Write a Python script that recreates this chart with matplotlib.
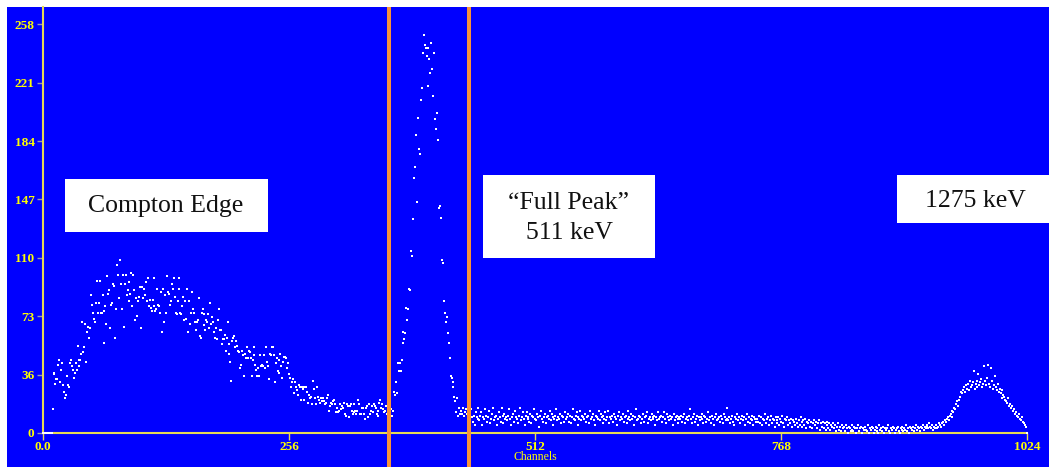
import matplotlib
matplotlib.use("Agg")
import matplotlib.pyplot as plt
from matplotlib.patches import Rectangle
import numpy as np

# ---- data: counts per channel ----
counts_low = [0, 0, 0, 0, 0, 0, 0, 0, 0, 0,
              15, 38, 37, 31, 34, 34, 43, 46, 32, 40, 44, 30, 26, 22, 24, 36,
              30, 29, 44, 46, 42, 40, 35, 38, 44, 40,
              55, 42, 46, 46, 50, 70, 51, 54, 69, 45, 64, 67, 60, 66, 87, 81,
              76, 72, 70, 82, 96, 76]

counts_compton = [
    82, 96, 76, 76, 87, 77, 57, 80, 69, 99, 88,
    90, 66, 81, 82, 94, 93, 60, 78, 106, 100, 85,
    109, 94, 78, 100, 67, 94, 100, 87, 90, 95, 83,
    88, 101, 80, 100, 90, 71, 85, 74, 83, 86, 92,
    66, 92, 85, 91, 87, 95, 83, 98, 80, 84, 79,
    77, 84, 98, 80, 77, 78, 91, 81, 80, 76, 89,
    64, 91, 70, 87, 76, 99, 89, 88, 81, 83, 94,
    91, 98, 86, 76, 75, 83, 91, 98, 76, 75, 80,
    86, 71, 83, 72, 91, 64, 83, 69, 76, 89, 78,
    76, 70, 65, 70, 71, 85, 61, 60, 76, 78, 68,
    75, 65, 71, 70, 75, 66, 82, 69, 73, 70, 64,
    60, 66, 59, 71, 78, 65, 65, 56, 59, 59, 62,
    52, 60, 70, 56, 50, 45, 33, 58, 60, 61, 54,
    58, 55, 52, 51, 41, 43, 52, 49, 36, 50, 47,
    54, 47, 52, 51, 47, 36, 46, 49, 54, 43, 40,
    36, 41, 36, 49, 42, 43, 42, 49, 41, 54, 45,
    42, 34, 50, 49, 54, 54, 49, 32, 44, 47, 39,
    46, 38, 50, 42, 35, 45, 48, 48, 47, 41, 44,
    37, 35, 29, 32, 34, 25, 32, 29, 27, 24, 30,
    29, 21, 29, 28, 21, 29, 29, 29, 26, 19, 24,
    22, 23, 18, 33, 28, 22, 18, 29, 23, 21, 19,
    22, 20, 22, 20, 18, 19, 22, 24, 14, 14, 17,
    19, 18, 20, 21, 18, 13, 16, 13, 14, 18, 15,
    17, 16, 19, 12, 11, 18, 17, 10, 17, 18, 14,
    12, 13, 18, 14, 12, 14, 21, 18, 12, 12, 16,
    16, 12, 9, 16, 17, 10, 18, 12, 14, 17, 13,
    18, 17, 16, 12, 14, 11, 19, 21, 16, 18, 15,
    13, 14, 17, 12, 15, 11]

counts_peak = [
    13, 15, 11, 14, 26, 24, 32, 25, 44, 39, 44, 39, 46, 57, 64, 59,
    63, 79, 71, 78, 91, 90, 115, 112, 135, 161, 168, 188, 146, 199, 179, 176,
    210, 218, 240, 251, 245, 243, 238, 219, 243, 236, 227, 246, 230, 213, 240, 198,
    192, 202, 185, 142, 143, 136, 109, 107, 83, 76, 70, 73, 63, 57, 47, 36,
    35, 32, 29, 23, 20, 13, 22, 11, 16, 12, 14, 12, 16, 11, 13, 15,
    12, 14]

counts_flat = [
    12, 9, 15, 10, 7, 11, 5, 13, 10, 9, 16, 8, 11, 13, 5, 10, 9, 15, 11, 7,
    10, 14, 6, 9, 12, 16, 8, 10, 11, 5, 9, 13, 10, 7, 16, 11, 6, 12, 9, 10,
    8, 11, 15, 9, 5, 10, 12, 7, 14, 10, 9, 6, 11, 16, 8, 10, 13, 9, 5, 11,
    13, 9, 10, 7, 12, 6, 11, 10, 15, 9, 8, 12, 10, 4, 11, 14, 9, 7, 10, 12,
    6, 10, 11, 9, 14, 8, 12, 10, 5, 9, 11, 15, 8, 10, 9, 12, 6, 11, 10, 7,
    13, 9, 10, 12, 7, 11, 6, 10, 15, 9, 8, 11, 13, 5, 10, 9, 14, 8, 11, 10,
    9, 12, 7, 10, 11, 6, 14, 9, 10, 12, 8, 5, 11, 10, 9, 14, 8, 12, 10, 6,
    11, 9, 13, 8, 10, 14, 6, 10, 9, 11, 7, 12, 10, 9, 5, 11, 13, 8, 10, 9,
    12, 7, 10, 11, 6, 9, 14, 10, 8, 12, 9, 11, 5, 10, 15, 8, 9, 11, 10, 6,
    9, 12, 7, 10, 11, 13, 6, 9, 10, 8, 12, 10, 9, 11, 5, 10, 8, 13, 9, 10,
    11, 7, 10, 13, 9, 6, 12, 10, 8, 11, 9, 10, 5, 12, 8, 10, 11, 9, 6, 10,
    9, 11, 7, 10, 12, 6, 9, 10, 8, 11, 15, 9, 6, 10, 12, 7, 9, 11, 5, 10,
    8, 10, 9, 12, 6, 11, 10, 7, 9, 13, 8, 10, 6, 11, 9, 5, 10, 12, 8, 9,
    10, 7, 11, 9, 6, 12, 10, 8, 9, 16, 8, 10, 6, 9, 11, 7, 5, 10, 9, 12,
    8, 10, 6, 9, 11, 8, 10, 5, 9, 12, 7, 10, 6, 9, 8, 11, 5, 10, 9, 7,
    9, 7, 11, 6, 10, 5, 9, 8, 12, 6, 9, 10, 5, 8, 11, 6, 9, 8, 4, 10,
    8, 6, 10, 5, 9, 7, 11, 6, 4, 9, 8, 10, 5, 8, 6, 9, 4, 8, 7, 5,
    9, 6, 4, 8, 5, 10, 7, 4, 8, 5, 9, 3, 7, 6, 8, 4, 7, 3, 6, 8,
    5, 7, 3, 6, 8, 2, 6, 4, 7, 3, 6, 2, 5, 7, 3, 6, 2, 5, 4, 6,
    3, 5, 1, 4, 6, 2, 4, 1, 5, 3, 4, 1, 5, 3, 0, 4, 3, 1, 5, 2,
    1, 4, 3, 0, 3, 5, 1, 3, 4, 0, 3, 2, 4, 2, 1, 5, 0, 3, 2, 4,
    3, 0, 2, 4, 1, 3, 0, 5, 2, 3, 1, 4, 0, 3, 2, 3, 5, 1, 0, 3,
    2, 4, 3, 0, 2, 3, 4, 1, 0, 3, 2, 4, 1, 3, 2, 5, 1, 3, 0, 4,
    3, 2, 4, 1, 3, 5, 2, 4, 3, 1, 4, 3, 5, 2, 4, 3, 5, 4, 3, 6,
    4, 3, 5]

counts_high = [
    2, 4, 3, 5, 3, 4, 6, 5, 4, 6,
    7, 5, 8, 7, 9, 10, 8, 11, 12, 10,
    14, 13, 16, 15, 18, 20, 17, 21, 23, 26,
    25, 27, 29, 26, 30, 28, 31, 27, 33, 29,
    30, 32, 39, 28, 31, 33, 29, 37, 30, 32,
    34, 29, 31, 42, 33, 30, 35, 43, 31, 29,
    41, 33, 28, 30, 36, 29, 27, 31, 26, 28,
    25, 27, 22, 24, 23, 21, 20, 19, 22, 17,
    18, 16, 17, 14, 15, 12, 13, 11, 10, 12,
    9, 8, 10, 7, 6, 5, 4, 0]

window_channels = [360.4, 443.4]
xtick_vals = [0, 256, 512, 768, 1024]
xtick_labels = ["0.0", "256", "512", "768", "1024"]
ytick_labels = ["0", "36", "73", "110", "147", "184", "221", "258"]

counts = np.array(counts_low + counts_compton + counts_peak + counts_flat + counts_high)
channels = np.arange(len(counts))

# ---- canvas 1049x467 px ----
W, H = 1049, 467
fig = plt.figure(figsize=(W / 100, H / 100), dpi=100)
fig.patch.set_facecolor("white")

def fx(px): return px / W
def fy(py): return 1 - py / H

BLUE = "#0000FF"
YEL = "#FFFF00"
AXIS = "#E6DA55"
ORANGE = "#F7923A"
SERIF = ["Liberation Serif", "DejaVu Serif"]

ax = fig.add_axes([fx(7), 0, fx(W) - fx(7), fy(7)])
ax.set_facecolor(BLUE)
ax.set_xlim(-37.4, 1046.4)
ax.set_ylim(-21.5, 268.9)

for s in ["top", "right"]:
    ax.spines[s].set_visible(False)
ax.spines["bottom"].set_position(("data", 0))
ax.spines["bottom"].set_bounds(0, 1024)
ax.spines["left"].set_position(("data", 0))
ax.spines["left"].set_bounds(0, 268.9)
for s in ["bottom", "left"]:
    ax.spines[s].set_color(AXIS)
    ax.spines[s].set_linewidth(1.5)
    ax.spines[s].set_zorder(2)

ax.set_xticks(xtick_vals)
ax.set_xticklabels(xtick_labels)
ax.set_yticks(np.linspace(0, 258, len(ytick_labels)))
ax.set_yticklabels(ytick_labels)
ax.tick_params(axis="x", direction="out", length=5, width=1, color=AXIS,
               labelcolor=YEL, labelsize=9.5, pad=1)
ax.tick_params(axis="y", direction="out", length=4.5, width=1, color="#9A9AB0",
               labelcolor=YEL, labelsize=9.5, pad=1.5)
for lab in ax.get_xticklabels() + ax.get_yticklabels():
    lab.set_family(SERIF)
    lab.set_fontweight("bold")

ax.text(512, -15.5, "Channels", color=YEL, fontsize=8.5, family=SERIF,
        ha="center", va="center")

# spectrum
ax.scatter(channels, counts, s=4, marker="s", color="white", linewidths=0,
           zorder=3)

# window cursors
for c in window_channels:
    ax.axvline(c, ymin=0, ymax=(H - 9) / (H - 7), color=ORANGE, lw=2.9, zorder=4)

# ---- annotation boxes (pixel layout) ----
def label_box(x0, y0, x1, y1, text, tx, ty, ls=1.2):
    fig.patches.append(Rectangle((fx(x0), fy(y1)), fx(x1) - fx(x0), fy(y0) - fy(y1),
                                 transform=fig.transFigure, facecolor="white",
                                 edgecolor="none", zorder=5))
    fig.text(fx(tx), fy(ty), text, fontsize=18.5, family=SERIF, color="#111111",
             ha="center", va="center", linespacing=ls, zorder=6)

label_box(65, 179, 268, 232, "Compton Edge", 166, 206)
label_box(483, 175, 655, 258, "\u201cFull Peak\u201d\n511 keV", 569, 218, ls=1.45)
label_box(897, 175, 1049, 223, "1275 keV", 975, 201)

fig.savefig("out.png", dpi=100, facecolor="white")
